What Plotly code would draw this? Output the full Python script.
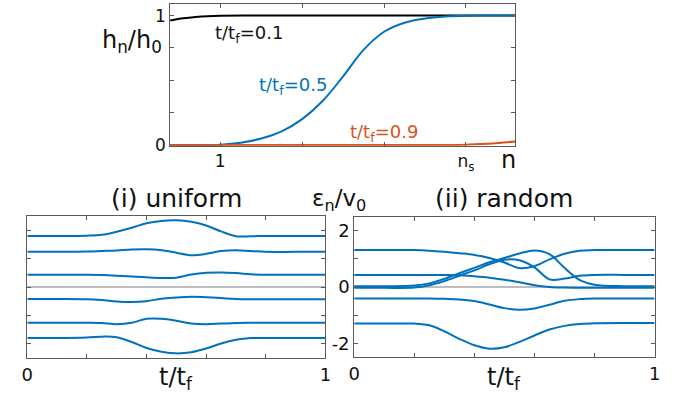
import plotly.graph_objects as go

# ---------------- data ----------------
# top panel: h_n/h_0 versus n
n_black = [0.388, 0.55, 0.7, 0.85, 1.0, 1.3, 1.7, 2.5, 3.5, 4.6]
h_black = [0.962, 0.979, 0.989, 0.995, 0.998, 1.0, 1.0, 1.0, 1.0, 1.0]

n_blue = [0.388, 0.75, 1.0, 1.25, 1.5, 1.75, 2.0, 2.25, 2.5, 2.75, 3.0, 3.25, 3.5, 3.75, 4.0, 4.3, 4.6]
h_blue = [0.0, 0.0, 0.003, 0.018, 0.05, 0.105, 0.20, 0.34, 0.53, 0.735, 0.875, 0.945, 0.978, 0.993, 0.999, 1.0, 1.0]

n_orange = [0.388, 1.0, 2.0, 3.0, 3.8, 4.0, 4.18, 4.4, 4.6]
h_orange = [0.0, 0.0, 0.0, 0.0, 0.001, 0.003, 0.008, 0.016, 0.028]

top_xticks = [1, 2, 3, 4]
top_xticktext = ["1", "", "", "n<sub>s</sub>"]
top_yticks = [0, 0.25, 0.5, 0.75, 1]
top_yticktext = ["0", "", "", "", "1"]

# bottom panels: eps_n/v0 versus t/tf
t_grid = [0, 0.1, 0.2, 0.25, 0.3, 0.35, 0.4, 0.45, 0.5, 0.55, 0.6, 0.65, 0.7, 0.75, 0.8, 0.9, 1.0]

uniform_levels = [
    [1.80, 1.80, 1.81, 1.84, 1.95, 2.09, 2.25, 2.33, 2.35, 2.30, 2.17, 1.96, 1.79, 1.79, 1.80, 1.80, 1.80],
    [1.24, 1.24, 1.25, 1.27, 1.29, 1.32, 1.33, 1.30, 1.21, 1.12, 1.17, 1.27, 1.30, 1.27, 1.24, 1.24, 1.24],
    [0.43, 0.43, 0.43, 0.42, 0.40, 0.37, 0.34, 0.32, 0.33, 0.44, 0.50, 0.51, 0.49, 0.45, 0.43, 0.43, 0.43],
    [-0.42, -0.42, -0.43, -0.46, -0.51, -0.53, -0.50, -0.41, -0.37, -0.34, -0.36, -0.39, -0.42, -0.43, -0.43, -0.43, -0.43],
    [-1.26, -1.26, -1.26, -1.27, -1.31, -1.26, -1.12, -1.12, -1.19, -1.29, -1.31, -1.29, -1.27, -1.26, -1.26, -1.26, -1.26],
    [-1.80, -1.80, -1.78, -1.75, -1.77, -1.94, -2.15, -2.28, -2.34, -2.30, -2.17, -1.99, -1.86, -1.80, -1.80, -1.80, -1.80],
]

random_levels = [
    [1.31, 1.31, 1.31, 1.29, 1.25, 1.20, 1.14, 1.03, 0.87, 0.67, 0.74, 0.98, 1.18, 1.29, 1.31, 1.31, 1.31],
    [0.03, 0.03, 0.05, 0.13, 0.29, 0.49, 0.68, 0.88, 1.03, 1.19, 1.30, 1.17, 0.68, 0.25, 0.08, 0.03, 0.03],
    [-0.03, -0.03, -0.02, 0.06, 0.21, 0.40, 0.59, 0.81, 0.97, 0.95, 0.70, 0.27, 0.30, 0.40, 0.43, 0.43, 0.43],
    [0.43, 0.43, 0.43, 0.43, 0.43, 0.42, 0.38, 0.33, 0.26, 0.17, 0.06, 0.0, -0.02, -0.03, -0.03, -0.03, -0.03],
    [-0.41, -0.41, -0.41, -0.41, -0.42, -0.44, -0.50, -0.62, -0.75, -0.81, -0.76, -0.63, -0.49, -0.43, -0.41, -0.41, -0.41],
    [-1.30, -1.30, -1.30, -1.36, -1.57, -1.84, -2.07, -2.19, -2.14, -1.95, -1.72, -1.51, -1.38, -1.31, -1.29, -1.28, -1.28],
]

bottom_xticks = [0, 0.2, 0.4, 0.6, 0.8, 1.0]
bottom_xticktext = ["0", "", "", "", "", "1"]
bottom_yticks = [-2, -1, 0, 1, 2]
right_yticktext = ["-2", "", "0", "", "2"]
left_yticktext = ["", "", "", "", ""]

# ---------------- styling ----------------
W, H = 695, 407
FONT = "DejaVu Sans"
BLUE = "#0072BD"
ORANGE = "#D95319"
AXC = "#5a5a5a"


def px(x):
    return x / W


def py(y):
    return 1 - y / H


fig = go.Figure()

fig.add_trace(go.Scatter(x=n_black, y=h_black, mode="lines", line=dict(color="black", width=2, shape="spline"),
                         xaxis="x", yaxis="y", showlegend=False))
fig.add_trace(go.Scatter(x=n_blue, y=h_blue, mode="lines", line=dict(color=BLUE, width=2, shape="spline"),
                         xaxis="x", yaxis="y", showlegend=False))
fig.add_trace(go.Scatter(x=n_orange, y=h_orange, mode="lines", line=dict(color=ORANGE, width=2, shape="spline"),
                         xaxis="x", yaxis="y", showlegend=False))

for lev in uniform_levels:
    fig.add_trace(go.Scatter(x=t_grid, y=lev, mode="lines", line=dict(color=BLUE, width=2, shape="spline"),
                             xaxis="x2", yaxis="y2", showlegend=False))
for lev in random_levels:
    fig.add_trace(go.Scatter(x=t_grid, y=lev, mode="lines", line=dict(color=BLUE, width=2, shape="spline"),
                             xaxis="x3", yaxis="y3", showlegend=False))

common = dict(showline=True, linecolor=AXC, linewidth=1, mirror="ticks", ticks="inside", ticklen=4,
              tickcolor=AXC, showgrid=False, zeroline=False, fixedrange=True)

fig.update_layout(
    width=W, height=H, autosize=False,
    margin=dict(l=0, r=0, t=0, b=0),
    paper_bgcolor="white", plot_bgcolor="white",
    font=dict(family=FONT, color="#111111"),
    xaxis=dict(domain=[px(167), px(518)], range=[0.388, 4.6], tickvals=top_xticks, ticktext=top_xticktext,
               tickfont=dict(size=17), anchor="y", **common),
    yaxis=dict(domain=[py(149), py(4)], range=[-0.005, 1.09], tickvals=top_yticks, ticktext=top_yticktext,
               tickfont=dict(size=17), anchor="x", **common),
    xaxis2=dict(domain=[px(21.7), px(325)], range=[0, 1], tickvals=bottom_xticks, ticktext=bottom_xticktext,
                tickfont=dict(size=18), anchor="y2", **common),
    yaxis2=dict(domain=[py(366), py(221)], range=[-2.5, 2.5], tickvals=bottom_yticks, ticktext=left_yticktext,
                anchor="x2", **{**common, "zeroline": True}, zerolinecolor="#bdbdbd", zerolinewidth=1.5),
    xaxis3=dict(domain=[px(354.3), px(660)], range=[0, 1], tickvals=bottom_xticks, ticktext=bottom_xticktext,
                tickfont=dict(size=18), anchor="y3", **common),
    yaxis3=dict(domain=[py(365.5), py(221.5)], range=[-2.5, 2.5], tickvals=bottom_yticks, ticktext=right_yticktext,
                tickfont=dict(size=18), anchor="x3", **{**common, "zeroline": True}, zerolinecolor="#bdbdbd",
                zerolinewidth=1.5),
)

ann = [
    dict(text="h<sub>n</sub>/h<sub>0</sub>", x=px(128), y=py(42), size=24, color="#111111"),
    dict(text="t/t<sub>f</sub>=0.1", x=px(247), y=py(35), size=18, color="#111111"),
    dict(text="t/t<sub>f</sub>=0.5", x=px(292), y=py(88), size=18, color=BLUE),
    dict(text="t/t<sub>f</sub>=0.9", x=px(385), y=py(136), size=18, color=ORANGE),
    dict(text="n", x=px(511), y=py(164), size=24, color="#111111"),
    dict(text="(i) uniform", x=px(174), y=py(203), size=25, color="#111111"),
    dict(text="(ii) random", x=px(507), y=py(203), size=25, color="#111111"),
    dict(text="ε<sub>n</sub>/v<sub>0</sub>", x=px(339), y=py(205), size=23, color="#111111"),
    dict(text="t/t<sub>f</sub>", x=px(173), y=py(387), size=24, color="#111111"),
    dict(text="t/t<sub>f</sub>", x=px(507), y=py(387), size=24, color="#111111"),
]
for a in ann:
    fig.add_annotation(text=a["text"], x=a["x"], y=a["y"], xref="paper", yref="paper",
                       xanchor="center", yanchor="middle", showarrow=False,
                       font=dict(family=FONT, size=a["size"], color=a["color"]))

fig.write_html("out.html")
